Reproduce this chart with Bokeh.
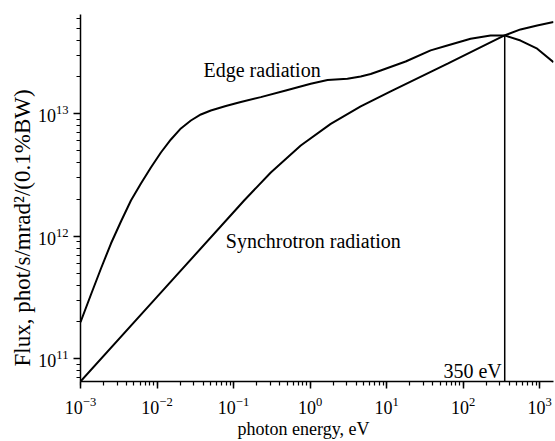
import math
from bokeh.plotting import figure
from bokeh.models import Range1d, LogTicker, Title
from bokeh.core.properties import value
from bokeh.embed import file_html
from bokeh.resources import INLINE

# Edge radiation (photon energy eV, flux)
edge_E = [0.001, 0.001371, 0.001852, 0.002501, 0.003378, 0.004562, 0.006163, 0.00832, 0.01124,
          0.01519, 0.02051, 0.0277, 0.0374, 0.0505, 0.0793, 0.1245, 0.2272, 0.4818, 1.021,
          1.692, 3.077, 4.59, 6.20, 8.375, 17.76, 37.65, 62.2, 125.3, 228.6, 348.2, 563, 930, 1519]
edge_F = [1.99e11, 3.35e11, 5.46e11, 8.73e11, 1.32e12, 1.96e12, 2.70e12, 3.64e12, 4.83e12,
          6.17e12, 7.59e12, 8.81e12, 9.87e12, 1.064e13, 1.158e13, 1.249e13, 1.367e13, 1.55e13,
          1.758e13, 1.888e13, 1.932e13, 2.015e13, 2.11e13, 2.256e13, 2.67e13, 3.29e13, 3.61e13,
          4.09e13, 4.36e13, 4.36e13, 3.96e13, 3.40e13, 2.64e13]

# Synchrotron radiation
sync_E = [0.001, 0.01, 0.1375, 0.3069, 0.7561, 1.863, 4.59, 11.31, 62.8, 348, 563, 930, 1519]
sync_F = [6.53e10, 3.20e11, 1.96e12, 3.32e12, 5.51e12, 8.27e12, 1.148e13, 1.521e13, 2.57e13,
          4.36e13, 4.88e13, 5.26e13, 5.60e13]

marker_E = 350
marker_F = 4.36e13

x_min, x_max = 1e-3, 1519
y_min, y_max = 6.53e10, 6.46e13

FONT = "Liberation Serif"

p = figure(width=555, height=441, x_axis_type="log", y_axis_type="log",
           x_range=Range1d(x_min, x_max), y_range=Range1d(y_min, y_max),
           output_backend="svg", toolbar_location=None,
           min_border_left=80, min_border_right=2, min_border_top=14, min_border_bottom=60)

p.outline_line_color = None
p.xgrid.visible = False
p.ygrid.visible = False
p.background_fill_color = "white"
p.border_fill_color = "white"

for ax in (p.xaxis[0], p.yaxis[0]):
    ax.axis_line_width = 1.5
    ax.axis_line_color = "black"
    ax.major_tick_line_color = "black"
    ax.minor_tick_line_color = "black"
    ax.major_tick_line_width = 1.5
    ax.minor_tick_line_width = 1.2
    ax.major_tick_out = 7
    ax.major_tick_in = 0
    ax.minor_tick_out = 4
    ax.minor_tick_in = 0
    ax.major_label_text_font = FONT
    ax.major_label_text_font_size = "18px"
    ax.major_label_text_color = "black"

p.xaxis.ticker = LogTicker(desired_num_ticks=7, num_minor_ticks=10)
p.yaxis.ticker = LogTicker(desired_num_ticks=4, num_minor_ticks=10)
p.xaxis.major_label_standoff = 8
p.yaxis.major_label_standoff = 5

# axis titles as side titles, shifted like the reference
p.add_layout(Title(text="photon energy, eV", text_font=FONT, text_font_size="18px",
                   text_font_style="normal", text_color="black", align="left",
                   offset=157, standoff=0), "below")
p.add_layout(Title(text="Flux, phot/s/mrad²/(0.1%BW)", text_font=FONT, text_font_size="23px",
                   text_font_style="normal", text_color="black", align="left",
                   offset=15, standoff=0), "left")

p.line(edge_E, edge_F, line_color="black", line_width=2)
p.line(sync_E, sync_F, line_color="black", line_width=2)
p.segment(x0=[marker_E], y0=[y_min], x1=[marker_E], y1=[marker_F], line_color="black", line_width=1.5)

p.text(x=[0.0405], y=[2.26e13], text=["Edge radiation"], text_font=value(FONT),
       text_font_size="20px", text_color="black", text_baseline="alphabetic", text_align="left")
p.text(x=[0.0794], y=[9.1e11], text=["Synchrotron radiation"], text_font=value(FONT),
       text_font_size="20px", text_color="black", text_baseline="alphabetic", text_align="left")
p.text(x=[marker_E], y=[8.02e10], text=["350 eV"], text_font=value(FONT), x_offset=-3,
       text_font_size="20px", text_color="black", text_baseline="alphabetic", text_align="right")

open("out.html", "w").write(file_html(p, INLINE))
